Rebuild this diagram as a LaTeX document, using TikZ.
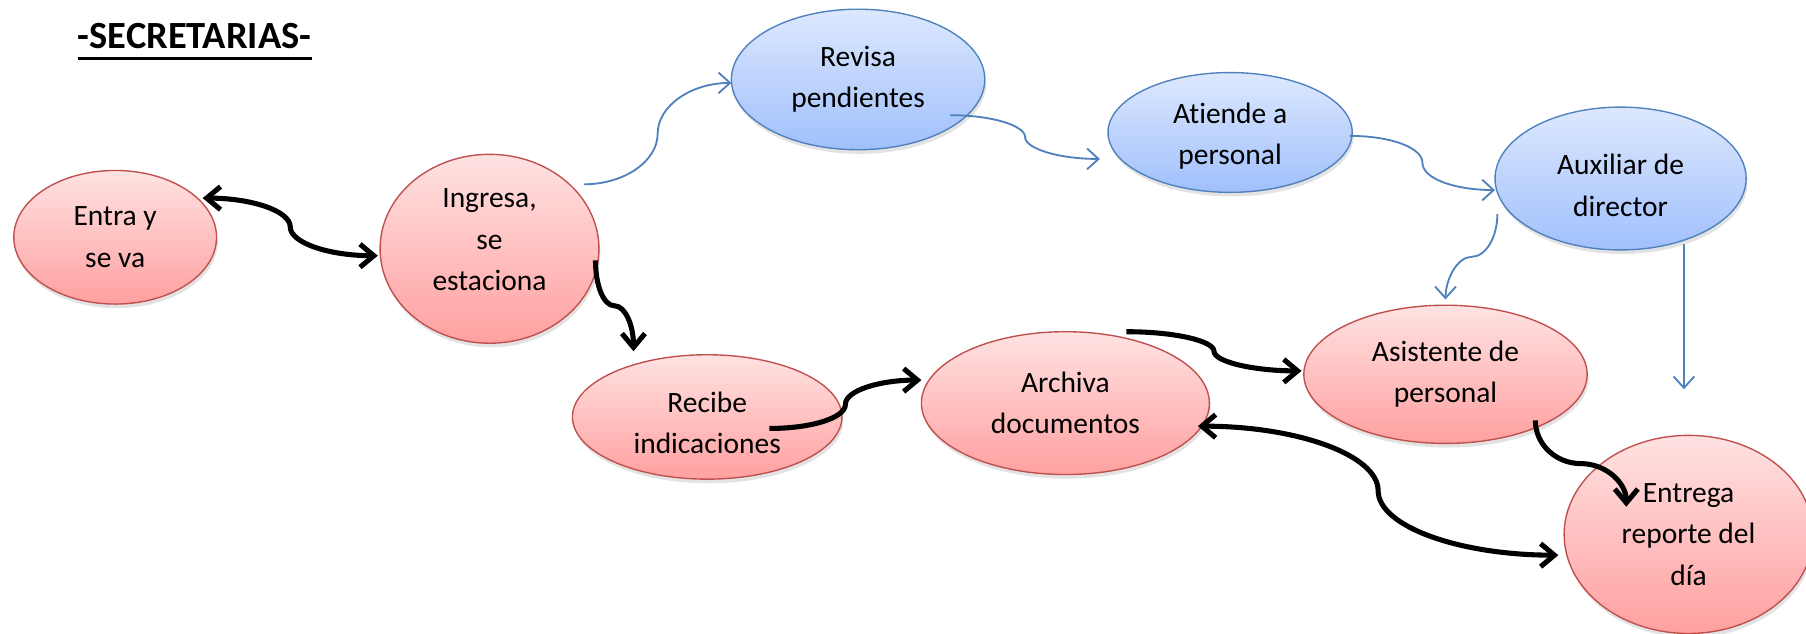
\documentclass[tikz,border=0pt]{standalone}
\usepackage{fontspec}
\setmainfont{Carlito}[Ligatures=NoCommon]
\usetikzlibrary{shapes.geometric,arrows.meta,shadows,calc}

\definecolor{redborder}{HTML}{C0504D}
\definecolor{redtop}{HTML}{FFE2E2}
\definecolor{redbot}{HTML}{FFA0A0}
\definecolor{blueborder}{HTML}{4F81BD}
\definecolor{bluetop}{HTML}{DDE8FE}
\definecolor{bluebot}{HTML}{A0C0FC}

\begin{document}
\begin{tikzpicture}[x=0.5pt,y=-0.5pt,
  base/.style={ellipse, inner sep=0pt, align=center, font=\fontsize{12.8}{18}\selectfont, line width=0.6pt,
    drop shadow={shadow xshift=0.6pt, shadow yshift=-1.8pt, opacity=0.22}},
  rednode/.style={base, draw=redborder, top color=redtop, bottom color=redbot},
  bluenode/.style={base, draw=blueborder, top color=bluetop, bottom color=bluebot},
  blk/.style={line width=2.2pt, -{Straight Barb[length=6pt,width=10pt]}},
  blkboth/.style={line width=2.2pt, {Straight Barb[length=6pt,width=10pt]}-{Straight Barb[length=6pt,width=10pt]}},
  blu/.style={draw=blueborder, line width=0.8pt, -{Straight Barb[length=5pt,width=9pt]}}
]
\useasboundingbox (0,0) rectangle (1568,550);

% title
\node[font=\fontsize{16.7}{19}\selectfont\bfseries, anchor=base, inner sep=0pt] (title) at (169,42) {-SECRETARIAS-};
\draw[line width=1.5pt] ([yshift=-4.5pt]title.base west) -- ([yshift=-4.5pt]title.base east);

% nodes
\node[rednode, minimum width=88pt, minimum height=58pt] (ent) at (100,206) {Entra y\\se va};
\node[rednode, minimum width=95pt, minimum height=82pt] (ing) at (425,216) {Ingresa,\\se\\estaciona\rule[-8pt]{0pt}{8pt}};
\node[bluenode, minimum width=110pt, minimum height=61pt] (rev) at (745,69) {Revisa\\pendientes};
\node[bluenode, minimum width=106pt, minimum height=52pt] (ati) at (1068,115) {\rule{0pt}{12pt}Atiende a\\personal};
\node[bluenode, minimum width=109pt, minimum height=62pt] (aux) at (1407,155) {\rule{0pt}{15pt}Auxiliar de\\director};
\node[rednode, minimum width=123pt, minimum height=60pt] (asi) at (1255,325) {Asistente de\\personal};
\node[rednode, minimum width=117pt, minimum height=54pt] (rec) at (614,362) {\rule{0pt}{14pt}Recibe\\indicaciones};
\node[rednode, minimum width=125pt, minimum height=62pt] (arc) at (925,350) {Archiva\\documentos};
\node[rednode, minimum width=108pt, minimum height=86pt] (entg) at (1466,464) {Entrega\\reporte del\\día};

\coordinate (free) at (1462,338);

% black connectors
\draw[blkboth] ([shift={(76,-34)}]ent.center) .. controls (218,172) and (252,183) .. (252,197)
   .. controls (252,211) and (286,222) .. ([shift={(-97,6)}]ing.center);
\draw[blk] ([shift={(92,10)}]ing.center) .. controls (517,248) and (524,265.5) .. (533.5,265.5)
   .. controls (543,265.5) and (550,283) .. ([shift={(-64,-57)}]rec.center);
\draw[blk] ([shift={(54,10)}]rec.center) .. controls (704,372) and (734,363) .. (734,351)
   .. controls (734,339) and (764,330) .. ([shift={(-125,-20)}]arc.center);
\draw[blk] ([shift={(53,-62)}]arc.center) .. controls (1020,288) and (1054,296) .. (1054,305)
   .. controls (1054,314) and (1088,322) .. ([shift={(-125,-3)}]asi.center);
\draw[blk] ([shift={(78,40)}]asi.center) .. controls (1333,386) and (1351,402.5) .. (1372.5,402.5)
   .. controls (1394,402.5) and (1412,419) .. ([shift={(-54,-24)}]entg.center);
\draw[blkboth] ([shift={(115,20)}]arc.center) .. controls (1126,370) and (1196.5,395) .. (1196.5,426)
   .. controls (1196.5,457) and (1267,482) .. ([shift={(-113,18)}]entg.center);

% blue connectors
\draw[blu] ([shift={(82,-56)}]ing.center) .. controls (542,160) and (571,140) .. (571,116)
   .. controls (571,92) and (600,72) .. ([shift={(-110,3)}]rev.center);
\draw[blu] ([shift={(80,31)}]rev.center) .. controls (861,100) and (890,109) .. (890,119)
   .. controls (890,129) and (919,138) .. ([shift={(-113,23)}]ati.center);
\draw[blu] ([shift={(104,3)}]ati.center) .. controls (1207,118) and (1235,128) .. (1235,141.5)
   .. controls (1235,155) and (1263,165) .. ([shift={(-109,10)}]aux.center);
\draw[blu] ([shift={(-107,31)}]aux.center) .. controls (1300,206) and (1290,223) .. (1277.5,223)
   .. controls (1265,223) and (1255,243) .. ([shift={(0,-65)}]asi.center);
\draw[blu] ([shift={(55,57)}]aux.center) -- (free);
\end{tikzpicture}
\end{document}
